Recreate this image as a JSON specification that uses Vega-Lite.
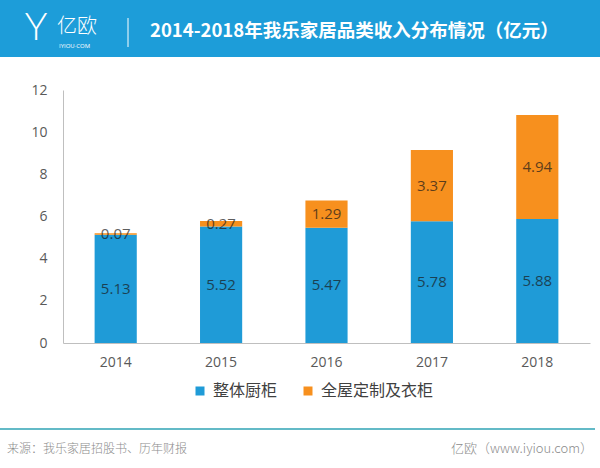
{
  "$schema": "https://vega.github.io/schema/vega-lite/v6.json",
  "width": 527,
  "height": 253,
  "autosize": "none",
  "padding": {"left": 63, "top": 90, "right": 10, "bottom": 125},
  "background": "#ffffff",
  "config": {"view": {"stroke": null}},
  "layer": [
    {
      "data": {"values": [{"k": "band"}]},
      "mark": {"type": "rect", "color": "#1d9dd9", "clip": false},
      "encoding": {
        "x": {"value": -63}, "x2": {"value": 537},
        "y": {"value": -90}, "y2": {"value": -33}
      }
    },
    {
      "data": {"values": [{"t": "Y"}]},
      "mark": {"type": "text", "font": "Lato", "fontWeight": 300, "fontSize": 38, "color": "#ffffff", "align": "center", "baseline": "middle"},
      "encoding": {"text": {"field": "t"}, "x": {"value": -27}, "y": {"value": -61}}
    },
    {
      "data": {"values": [{"t": "亿欧"}]},
      "mark": {"type": "text", "font": "Noto Sans CJK SC", "fontWeight": 300, "fontSize": 20, "color": "#ffffff", "align": "left", "baseline": "middle"},
      "encoding": {"text": {"field": "t"}, "x": {"value": -6}, "y": {"value": -63}}
    },
    {
      "data": {"values": [{"t": "IYIOU·COM"}]},
      "mark": {"type": "text", "font": "Open Sans", "fontSize": 6, "color": "#ffffff", "align": "left", "baseline": "middle"},
      "encoding": {"text": {"field": "t"}, "x": {"value": -4}, "y": {"value": -44}}
    },
    {
      "data": {"values": [{"k": "divider"}]},
      "mark": {"type": "rule", "color": "#ffffff", "strokeWidth": 1, "clip": false},
      "encoding": {"x": {"value": 65}, "y": {"value": -72}, "y2": {"value": -43}}
    },
    {
      "data": {"values": [{"t": "2014-2018年我乐家居品类收入分布情况（亿元）"}]},
      "mark": {"type": "text", "font": "Noto Sans CJK SC", "fontWeight": "bold", "fontSize": 18.5, "color": "#ffffff", "align": "left", "baseline": "middle"},
      "encoding": {"text": {"field": "t"}, "x": {"value": 87}, "y": {"value": -59}}
    },
    {
      "data": {"values": [
        {"year": "2014", "cat": "整体厨柜", "v": 5.13, "o": 1},
        {"year": "2014", "cat": "全屋定制及衣柜", "v": 0.07, "o": 2},
        {"year": "2015", "cat": "整体厨柜", "v": 5.52, "o": 1},
        {"year": "2015", "cat": "全屋定制及衣柜", "v": 0.27, "o": 2},
        {"year": "2016", "cat": "整体厨柜", "v": 5.47, "o": 1},
        {"year": "2016", "cat": "全屋定制及衣柜", "v": 1.29, "o": 2},
        {"year": "2017", "cat": "整体厨柜", "v": 5.78, "o": 1},
        {"year": "2017", "cat": "全屋定制及衣柜", "v": 3.37, "o": 2},
        {"year": "2018", "cat": "整体厨柜", "v": 5.88, "o": 1},
        {"year": "2018", "cat": "全屋定制及衣柜", "v": 4.94, "o": 2}
      ]},
      "encoding": {
        "x": {
          "field": "year", "type": "nominal",
          "scale": {"paddingInner": 0.6, "paddingOuter": 0.3},
          "axis": {"title": null, "labelAngle": 0, "ticks": false, "domainColor": "#bfbfbf", "labelFont": "Open Sans", "labelFontSize": 14, "labelColor": "#595959", "labelPadding": 12}
        },
        "y": {
          "field": "v", "type": "quantitative", "stack": "zero",
          "scale": {"domain": [0, 12], "nice": false},
          "axis": {"title": null, "values": [0, 2, 4, 6, 8, 10, 12], "grid": false, "ticks": false, "domainColor": "#bfbfbf", "labelFont": "Open Sans", "labelFontSize": 14, "labelColor": "#595959", "labelPadding": 16}
        },
        "order": {"field": "o", "type": "quantitative"}
      },
      "layer": [
        {
          "mark": {"type": "bar"},
          "encoding": {
            "color": {
              "field": "cat", "type": "nominal",
              "scale": {"domain": ["整体厨柜", "全屋定制及衣柜"], "range": ["#1f9bd7", "#f7901e"]},
              "legend": {
                "title": null, "orient": "none", "direction": "horizontal",
                "legendX": 129, "legendY": 293,
                "symbolType": "square", "symbolSize": 81, "symbolStrokeWidth": 0,
                "labelFont": "Noto Sans CJK SC", "labelFontSize": 16, "labelColor": "#404040",
                "labelOffset": 5, "columnPadding": 22
              }
            }
          }
        },
        {
          "mark": {"type": "text", "font": "Open Sans", "fontSize": 15, "color": "#1a1a1a", "opacity": 0.7, "baseline": "middle"},
          "encoding": {
            "y": {"field": "v", "type": "quantitative", "stack": "zero", "bandPosition": 0.5},
            "detail": {"field": "cat"},
            "text": {"field": "v", "type": "quantitative", "format": ".2f"}
          }
        }
      ]
    },
    {
      "data": {"values": [{"k": "footer"}]},
      "mark": {"type": "rule", "color": "#2fa3b5", "strokeWidth": 1.5, "clip": false},
      "encoding": {"x": {"value": -63}, "x2": {"value": 532}, "y": {"value": 339}}
    },
    {
      "data": {"values": [{"t": "来源：我乐家居招股书、历年财报"}]},
      "mark": {"type": "text", "font": "Noto Sans CJK SC", "fontWeight": 300, "fontSize": 12, "color": "#8c8c8c", "align": "left", "baseline": "middle"},
      "encoding": {"text": {"field": "t"}, "x": {"value": -56}, "y": {"value": 359}}
    },
    {
      "data": {"values": [{"t": "亿欧（www.iyiou.com）"}]},
      "mark": {"type": "text", "font": "Noto Sans CJK SC", "fontWeight": 300, "fontSize": 13, "color": "#8c8c8c", "align": "right", "baseline": "middle"},
      "encoding": {"text": {"field": "t"}, "x": {"value": 530}, "y": {"value": 359}}
    }
  ]
}
